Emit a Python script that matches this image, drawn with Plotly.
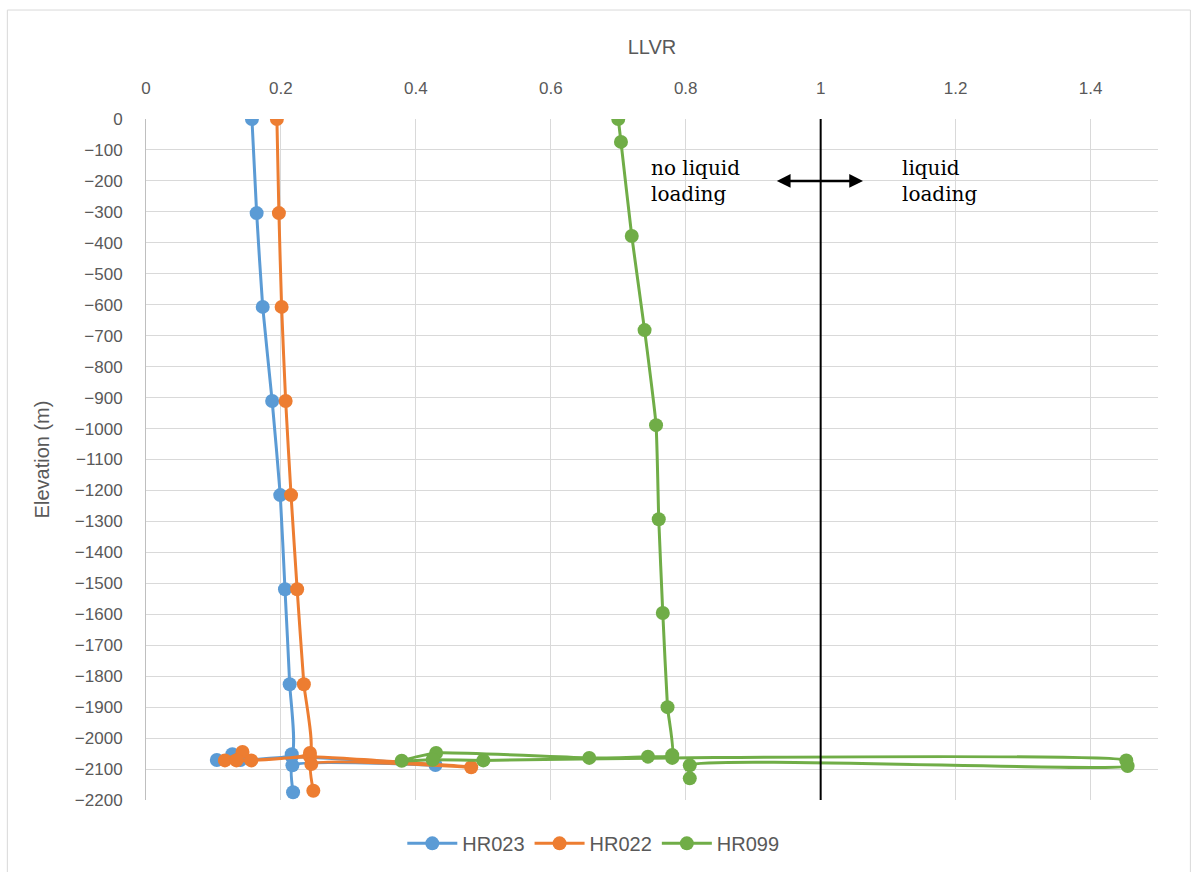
import plotly.graph_objects as go

# HR023
hr023_llvr = [0.157, 0.164, 0.173, 0.187, 0.199, 0.206, 0.213, 0.216, 0.105, 0.128, 0.140, 0.216, 0.429, 0.217, 0.218]
hr023_elev = [0, -304, -607, -911, -1215, -1519, -1826, -2052, -2071, -2052, -2071, -2060, -2087, -2088, -2175]
# HR022
hr022_llvr = [0.194, 0.197, 0.201, 0.207, 0.215, 0.224, 0.234, 0.243, 0.117, 0.143, 0.134, 0.156, 0.243, 0.482, 0.245, 0.248]
hr022_elev = [0, -304, -607, -911, -1215, -1519, -1826, -2048, -2072, -2045, -2072, -2072, -2060, -2094, -2084, -2170]
# HR099
hr099_llvr = [0.700, 0.704, 0.720, 0.739, 0.756, 0.760, 0.766, 0.773, 0.780, 0.744, 0.657, 0.430, 0.379, 0.425, 0.500, 0.780, 1.453, 1.455, 0.806, 0.806]
hr099_elev = [0, -74, -378, -682, -989, -1293, -1596, -1900, -2055, -2060, -2064, -2048, -2073, -2070, -2072, -2064, -2072, -2090, -2088, -2130]

x_ticks = [0, 0.2, 0.4, 0.6, 0.8, 1.0, 1.2, 1.4]
x_tick_labels = ["0", "0.2", "0.4", "0.6", "0.8", "1", "1.2", "1.4"]
y_ticks = list(range(0, -2201, -100))
threshold = 1.0

series = [
    ("HR023", hr023_llvr, hr023_elev, "#5B9BD5"),
    ("HR022", hr022_llvr, hr022_elev, "#ED7D31"),
    ("HR099", hr099_llvr, hr099_elev, "#70AD47"),
]

fig = go.Figure()
for name, xs, ys, col in series:
    fig.add_trace(go.Scatter(
        x=xs, y=ys, name=name, mode="lines+markers",
        line=dict(color=col, width=3, shape="spline", smoothing=0.45),
        marker=dict(color=col, size=14),
    ))

fig.add_trace(go.Scatter(
    x=[threshold, threshold], y=[0, -2200], mode="lines",
    line=dict(color="black", width=2), showlegend=False, hoverinfo="skip",
))

fig.add_annotation(x=0.935, y=-200, ax=1.065, ay=-200, xref="x", yref="y", axref="x", ayref="y",
                   text="", showarrow=True, arrowhead=2, arrowside="end+start", arrowsize=1.1,
                   arrowwidth=2.5, arrowcolor="black")
fig.add_annotation(x=0.746, y=-200, xref="x", yref="y", text="no liquid<br>loading", showarrow=False,
                   align="left", xanchor="left", yanchor="middle",
                   font=dict(family="DejaVu Serif", size=20, color="black"))
fig.add_annotation(x=1.117, y=-200, xref="x", yref="y", text="liquid<br>loading", showarrow=False,
                   align="left", xanchor="left", yanchor="middle",
                   font=dict(family="DejaVu Serif", size=20, color="black"))

fig.add_shape(type="rect", xref="paper", yref="paper", x0=-0.137, x1=1.032, y0=-0.14, y1=1.16,
              line=dict(color="#D9D9D9", width=1), layer="below")

tickfont = dict(family="Liberation Sans", size=17, color="#595959")
fig.update_layout(
    width=1198, height=872,
    margin=dict(l=146, r=40, t=119, b=72, autoexpand=False),
    paper_bgcolor="white", plot_bgcolor="white",
    font=dict(family="Liberation Sans", color="#595959"),
    showlegend=True,
    legend=dict(orientation="h", x=0.442, y=-0.035, xanchor="center", yanchor="top",
                itemwidth=50,
                font=dict(family="Liberation Sans", size=20, color="#595959")),
    xaxis=dict(side="top", range=[0, 1.5], tickvals=x_ticks, ticktext=x_tick_labels,
               showgrid=True, gridcolor="#D9D9D9", gridwidth=1, zeroline=False,
               tickfont=tickfont, ticks="", showline=False, ticklabelstandoff=21,
               title=dict(text="LLVR", font=dict(family="Liberation Sans", size=20, color="#595959"), standoff=18)),
    yaxis=dict(range=[-2200, 0], tickvals=y_ticks, showgrid=True, gridcolor="#D9D9D9", gridwidth=1,
               zeroline=False, tickfont=tickfont, ticks="", showline=True, linecolor="#BFBFBF",
               ticklabelstandoff=19,
               title=dict(text="Elevation (m)", font=dict(family="Liberation Sans", size=20, color="#595959"), standoff=19)),
)

fig.write_html("out.html")
